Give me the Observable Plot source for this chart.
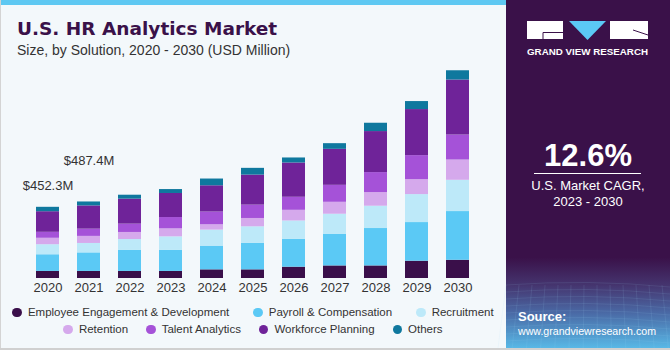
<!DOCTYPE html>
<html>
<head>
<meta charset="utf-8">
<script src="https://cdn.jsdelivr.net/npm/d3@7"></script>
<script src="https://cdn.jsdelivr.net/npm/@observablehq/plot@0.6"></script>
<style>
  html, body { margin: 0; padding: 0; background: #ffffff; }
  #wrap { position: relative; width: 670px; height: 350px; background: #f3f8fb; overflow: hidden; font-family: "Liberation Sans", Arial, sans-serif; }
  #chart { position: absolute; left: 0; top: 0; }
  #legend { position: absolute; left: 0; top: 304px; width: 506px; font-size: 11.5px; color: #333; }
  .row { display: flex; justify-content: center; height: 17px; line-height: 17px; white-space: nowrap; }
  .item { display: flex; align-items: center; }
  .dot { display: inline-block; width: 9.5px; height: 9.5px; border-radius: 50%; margin-right: 6px; }
  #overlay { position: absolute; left: 0; top: 0; pointer-events: none; }
</style>
</head>
<body>
<div id="wrap">
  <div id="chart"></div>
  <div id="legend"></div>
  <svg id="overlay" width="670" height="350"></svg>
</div>
<script>
// ---- data ----
const years = [2020, 2021, 2022, 2023, 2024, 2025, 2026, 2027, 2028, 2029, 2030];
const seriesNames = ["Employee Engagement & Development", "Payroll & Compensation", "Recruitment", "Retention", "Talent Analytics", "Workforce Planning", "Others"];
const employeeEngagement = [45, 45, 45, 45, 55, 55, 72, 80, 80, 110, 116];
const payroll            = [106, 118, 135, 135, 151, 168, 178, 202, 238, 246, 310];
const recruitment        = [64, 60, 68, 85, 102, 106, 116, 127, 142, 178, 199];
const retention          = [41, 45, 45, 51, 34, 53, 68, 76, 87, 95, 129];
const talentAnalytics    = [38, 46, 53, 72, 81, 85, 83, 108, 127, 153, 159];
const workforcePlanning  = [131, 148, 159, 153, 167, 191, 218, 229, 261, 293, 350];
const others             = [28, 25, 25, 25, 43, 43, 32, 36, 53, 51, 59];
const colors = ["#3a0f4a", "#5bc9f5", "#bde9f9", "#d5a9ec", "#a552d8", "#6f2399", "#0f789e"];
const annotYears = [2020, 2021];
const annotLabels = ["$452.3M", "$487.4M"];
const legendRows = [[0, 1, 2], [3, 4, 5, 6]];
const legendGaps = [24, 18];

const seriesValues = [employeeEngagement, payroll, recruitment, retention, talentAnalytics, workforcePlanning, others];
const data = years.flatMap((yr, i) => seriesNames.map((s, j) => ({ year: yr, series: s, value: seriesValues[j][i] })));
const totals = years.map((yr, i) => seriesValues.reduce((a, arr) => a + arr[i], 0));
const annot = annotYears.map((yr, k) => ({ year: yr, total: totals[years.indexOf(yr)], label: annotLabels[k] }));

const chart = Plot.plot({
  width: 505,
  height: 300,
  marginLeft: 13,
  marginRight: 12,
  marginTop: 58,
  marginBottom: 22,
  x: { type: "band", domain: years, padding: 0.43, label: null, tickSize: 0, tickPadding: 4, tickFormat: d => String(d) },
  y: { domain: [0, 1400], axis: null },
  color: { domain: seriesNames, range: colors },
  style: { background: "transparent", fontFamily: "'Liberation Sans', Arial, sans-serif", fontSize: "13px", color: "#333" },
  marks: [
    Plot.barY(data, { x: "year", y: "value", fill: "series" }),
    Plot.text(annot.filter((d, k) => k === 0), { x: "year", y: "total", text: "label", dy: -21, fontSize: 13, fill: "#333" }),
    Plot.text(annot.filter((d, k) => k === 1), { x: "year", y: "total", text: "label", dy: -41, fontSize: 13, fill: "#333" })
  ]
});
document.getElementById("chart").appendChild(chart);

// ---- legend ----
const legend = document.getElementById("legend");
legendRows.forEach((row, ri) => {
  const r = document.createElement("div");
  r.className = "row";
  r.style.columnGap = legendGaps[ri] + "px";
  row.forEach(j => {
    const it = document.createElement("div");
    it.className = "item";
    const dot = document.createElement("span");
    dot.className = "dot";
    dot.style.background = colors[j];
    it.appendChild(dot);
    it.appendChild(document.createTextNode(seriesNames[j]));
    r.appendChild(it);
  });
  legend.appendChild(r);
});

// ---- overlay (frame, titles, side panel) ----
const ov = d3.select("#overlay");
const defs = ov.append("defs");
const g = defs.append("linearGradient").attr("id", "side").attr("x1", 0).attr("y1", 0).attr("x2", 0).attr("y2", 1);
g.append("stop").attr("offset", "0").attr("stop-color", "#3a1149");
g.append("stop").attr("offset", "0.74").attr("stop-color", "#3a1149");
g.append("stop").attr("offset", "0.82").attr("stop-color", "#45356f");
g.append("stop").attr("offset", "0.9").attr("stop-color", "#4a6aa6");
g.append("stop").attr("offset", "1").attr("stop-color", "#58b8e6");

// frame
ov.append("rect").attr("x", 0).attr("y", 0).attr("width", 506).attr("height", 5).attr("fill", "#5ec8f2");
ov.append("rect").attr("x", 0).attr("y", 0).attr("width", 1).attr("height", 350).attr("fill", "#d4d4d4");
ov.append("rect").attr("x", 0).attr("y", 348).attr("width", 670).attr("height", 2).attr("fill", "#d0d0d0");

// titles
ov.append("text").attr("x", 17).attr("y", 35).attr("font-family", "'DejaVu Sans', sans-serif").attr("font-weight", "bold")
  .attr("font-size", 18.5).attr("fill", "#3a1149").text("U.S. HR Analytics Market");
ov.append("text").attr("x", 17).attr("y", 55).attr("font-family", "'Liberation Sans', Arial, sans-serif")
  .attr("font-size", 14).attr("fill", "#333").text("Size, by Solution, 2020 - 2030 (USD Million)");

// side panel
ov.append("rect").attr("x", 506).attr("y", 0).attr("width", 164).attr("height", 348).attr("fill", "url(#side)");
const tex = ov.append("g").attr("stroke", "#9fd6f2").attr("stroke-opacity", 0.18).attr("stroke-width", 0.6).attr("fill", "none");
for (let k = 0; k < 9; k++) {
  const yy = 285 + k * 7;
  tex.append("path").attr("d", `M506,${yy} Q588,${yy - 6} 670,${yy + 2}`);
}
for (let k = 0; k < 14; k++) {
  const xx = 506 + k * 13;
  tex.append("path").attr("d", `M${xx},285 L${xx - 8 + k * 1.2},348`);
}

// logo
ov.append("rect").attr("x", 527).attr("y", 21).attr("width", 36).attr("height", 18).attr("fill", "#ffffff");
ov.append("path").attr("d", "M543,39 L543,32.5 L563,32.5").attr("stroke", "#3a1149").attr("stroke-width", 1).attr("fill", "none");
ov.append("path").attr("d", "M569,21 L606,21 L587.5,40 Z").attr("fill", "#5bc9f5");
ov.append("rect").attr("x", 610).attr("y", 21).attr("width", 38).attr("height", 18).attr("fill", "#ffffff");
ov.append("path").attr("d", "M633,30 L648,35").attr("stroke", "#3a1149").attr("stroke-width", 1).attr("fill", "none");
ov.append("text").attr("x", 527).attr("y", 54.5).attr("textLength", 121).attr("lengthAdjust", "spacingAndGlyphs")
  .attr("font-family", "'Liberation Sans', Arial, sans-serif").attr("font-weight", "bold").attr("font-size", 9.5)
  .attr("fill", "#ffffff").text("GRAND VIEW RESEARCH");

// CAGR
ov.append("text").attr("x", 588).attr("y", 166).attr("text-anchor", "middle").attr("font-family", "'Liberation Sans', Arial, sans-serif")
  .attr("font-weight", "bold").attr("font-size", 31).attr("fill", "#ffffff").text("12.6%");
ov.append("line").attr("x1", 534).attr("x2", 641).attr("y1", 173.5).attr("y2", 173.5).attr("stroke", "#ffffff").attr("stroke-width", 1.2);
ov.append("text").attr("x", 588).attr("y", 190).attr("text-anchor", "middle").attr("font-family", "'Liberation Sans', Arial, sans-serif")
  .attr("font-size", 13).attr("fill", "#ffffff").text("U.S. Market CAGR,");
ov.append("text").attr("x", 588).attr("y", 205.5).attr("text-anchor", "middle").attr("font-family", "'Liberation Sans', Arial, sans-serif")
  .attr("font-size", 13).attr("fill", "#ffffff").text("2023 - 2030");

// source
ov.append("text").attr("x", 518).attr("y", 320.5).attr("font-family", "'Liberation Sans', Arial, sans-serif")
  .attr("font-weight", "bold").attr("font-size", 13).attr("fill", "#ffffff").text("Source:");
ov.append("text").attr("x", 518).attr("y", 334.5).attr("textLength", 138).attr("lengthAdjust", "spacingAndGlyphs")
  .attr("font-family", "'Liberation Sans', Arial, sans-serif")
  .attr("font-size", 11).attr("fill", "#ffffff").text("www.grandviewresearch.com");
</script>
</body>
</html>
